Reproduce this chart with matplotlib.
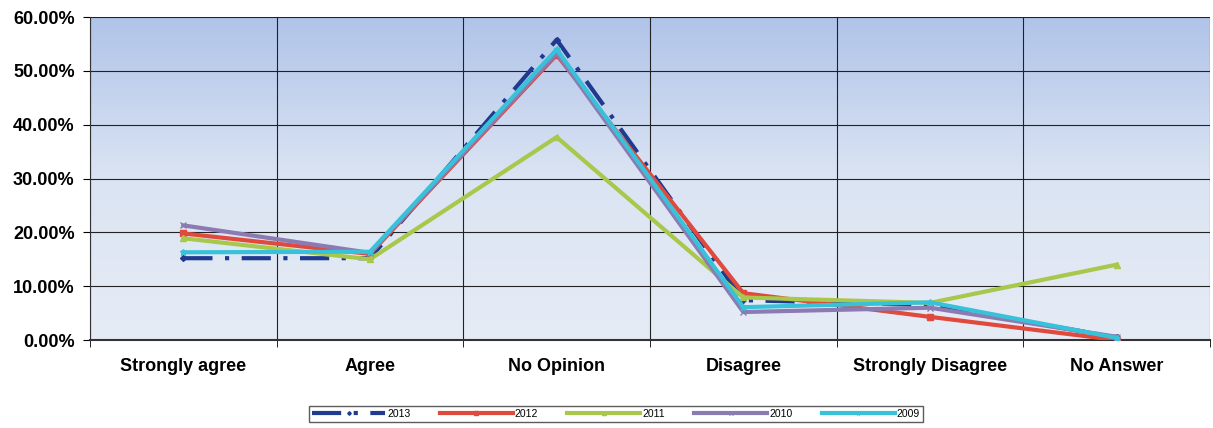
import numpy as np
import matplotlib
matplotlib.use("Agg")
import matplotlib.pyplot as plt
from matplotlib.colors import LinearSegmentedColormap

categories = ["Strongly agree", "Agree", "No Opinion", "Disagree", "Strongly Disagree", "No Answer"]
years = ["2013", "2012", "2011", "2010", "2009"]

v2013 = [15.2, 15.2, 55.8, 7.4, 6.5, 0.5]
v2012 = [19.8, 16.0, 53.0, 8.7, 4.3, 0.0]
v2011 = [18.9, 15.0, 37.7, 7.9, 6.9, 14.0]
v2010 = [21.3, 16.2, 53.3, 5.2, 6.0, 0.6]
v2009 = [16.3, 16.4, 54.0, 6.1, 7.0, 0.4]

colors = ["#1f3a8f", "#e04a3c", "#a8c84c", "#8c7bb2", "#38c2da"]
markers = ["D", "s", "^", "x", "*"]

plt.rcParams['font.family'] = ['Liberation Sans', 'DejaVu Sans']

fig = plt.figure(figsize=(12.13, 4.28), dpi=100)
ax = fig.add_axes([0.0742, 0.2056, 0.9233, 0.7544])

x = np.arange(len(categories))

# background gradient
grad = np.linspace(0, 1, 256).reshape(-1, 1)
cmap = LinearSegmentedColormap.from_list("bg", ["#e6ecf6", "#dbe4f3", "#b0c4e9"])
ax.imshow(grad, extent=[-0.5, 5.5, 0, 60], aspect="auto", cmap=cmap, origin="lower", zorder=0)

series = [v2013, v2012, v2011, v2010, v2009]
for i, (yr, vals) in enumerate(zip(years, series)):
    if yr == "2013":
        ax.plot(x, vals, color=colors[i], lw=3, linestyle=(0, (7, 3, 1, 3)),
                marker=markers[i], markersize=3, label=yr, zorder=3)
    else:
        ax.plot(x, vals, color=colors[i], lw=3, marker=markers[i], markersize=5,
                label=yr, zorder=3 + i)

ax.set_xlim(-0.5, 5.5)
ax.set_ylim(0, 60)
ax.set_yticks(np.arange(0, 61, 10))
ax.set_yticklabels(["%.2f%%" % t for t in np.arange(0, 61, 10)], fontsize=13, fontweight="bold")
ax.set_xticks(x)
ax.set_xticklabels(categories, fontsize=13, fontweight="bold")
ax.set_xticks(np.arange(-0.5, 5.6, 1), minor=True)
ax.tick_params(axis="x", which="major", length=0, pad=13)
ax.tick_params(axis="x", which="minor", length=5, direction="out", color="black")
ax.tick_params(axis="y", length=5, color="black", pad=6)
ax.grid(True, axis="y", color="#222222", lw=0.8)
ax.grid(True, axis="x", which="minor", color="#222222", lw=0.8)
for s in ax.spines.values():
    s.set_visible(False)
ax.spines["left"].set_visible(True)
ax.spines["bottom"].set_visible(True)
ax.spines["left"].set_color("#333333")
ax.spines["bottom"].set_color("#333333")
ax.spines["bottom"].set_linewidth(1.5)

leg = fig.legend(loc="center", bbox_to_anchor=(0.508, 0.033), ncol=5, fontsize=7.5,
                 frameon=True, fancybox=False, edgecolor="#333333", handlelength=7,
                 columnspacing=2.8, borderpad=0.3, handletextpad=0.2, markerscale=0.6)
leg.get_frame().set_linewidth(1.0)

fig.savefig("out.png", dpi=100)
